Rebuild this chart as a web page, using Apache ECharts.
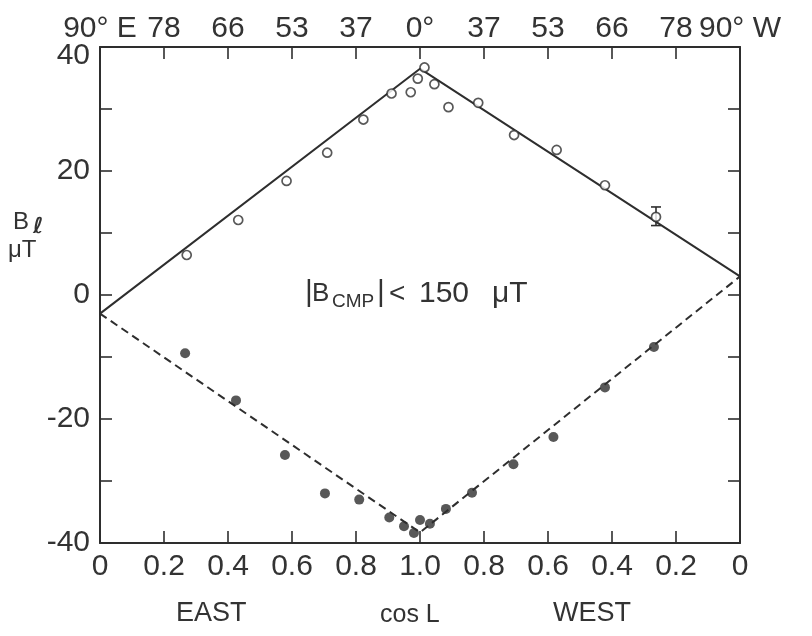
<!DOCTYPE html>
<html>
<head>
<meta charset="utf-8">
<script src="https://cdn.jsdelivr.net/npm/echarts@6/dist/echarts.min.js"></script>
<style>
html,body{margin:0;padding:0;background:#fff;}
#c{width:812px;height:636px;}
</style>
</head>
<body>
<div id="c"></div>
<script>
// ---- data (cos L on each side; positions along axis: east = cos, west = 2 - cos) ----
var bottomTickLabels = ['0','0.2','0.4','0.6','0.8','1.0','0.8','0.6','0.4','0.2','0'];
var topTickLabels = ['90° E','78','66','53','37','0°','37','53','66','78','90° W'];

var openEastCos = [0.271, 0.432, 0.583, 0.710, 0.823, 0.911, 0.971, 0.993];
var openEastB   = [6.45, 12.1, 18.4, 22.95, 28.3, 32.5, 32.7, 34.9];
var openWestCos = [0.986, 0.955, 0.911, 0.818, 0.706, 0.573, 0.422, 0.2625];
var openWestB   = [36.7, 34.0, 30.3, 31.0, 25.8, 23.4, 17.7, 12.6];

var fillEastCos = [0.266, 0.425, 0.578, 0.703, 0.810, 0.904, 0.950, 0.981, 1.0];
var fillEastB   = [-9.4, -17.0, -25.8, -32.0, -33.0, -35.9, -37.3, -38.4, -36.3];
var fillWestCos = [0.969, 0.919, 0.8375, 0.708, 0.583, 0.422, 0.269];
var fillWestB   = [-36.9, -34.5, -31.9, -27.3, -22.9, -14.9, -8.4];

var fitPos = [0, 1, 2];
var fitSolidB  = [-3, 36.5, 3];
var fitDashedB = [-3, -38.3, 3];

var errWestCos = [0.2625];
var errLow  = [11.2];
var errHigh = [14.2];

// ---- build ----
function east(c, b){ return c.map(function(v,i){ return [v, b[i]]; }); }
function west(c, b){ return c.map(function(v,i){ return [2 - v, b[i]]; }); }
var openData = east(openEastCos, openEastB).concat(west(openWestCos, openWestB));
var fillData = east(fillEastCos, fillEastB).concat(west(fillWestCos, fillWestB));
var solidData = fitPos.map(function(p,i){ return [p, fitSolidB[i]]; });
var dashedData = fitPos.map(function(p,i){ return [p, fitDashedB[i]]; });
var errData = errWestCos.map(function(c,i){ return [2 - c, errLow[i], errHigh[i]]; });

var INK = '#2e2e2e';
var TXT = '#333333';
var FONT = 'Liberation Sans';

function idx(v){ return Math.round(v / 0.2); }

var chart = echarts.init(document.getElementById('c'), null, {renderer:'canvas'});
var axisCommonX = {
  type:'value', min:0, max:2, interval:0.2,
  axisLine:{show:true, onZero:false, lineStyle:{color:INK, width:2}},
  axisTick:{show:true, inside:true, length:12, lineStyle:{color:INK, width:1.6}},
  splitLine:{show:false}
};
var axisCommonY = {
  type:'value', min:-40, max:40, interval:10,
  axisLine:{show:true, onZero:false, lineStyle:{color:INK, width:2}},
  axisTick:{show:true, inside:true, length:12, lineStyle:{color:INK, width:1.6}},
  splitLine:{show:false}
};

var option = {
  backgroundColor:'#ffffff',
  animation:false,
  grid:{left:100, right:72, top:47, bottom:93, containLabel:false},
  xAxis:[
    Object.assign({}, axisCommonX, {
      position:'bottom',
      axisLabel:{show:true, margin:9, color:TXT, fontFamily:FONT, fontSize:30,
        formatter:function(v){ return bottomTickLabels[idx(v)]; }}
    }),
    Object.assign({}, axisCommonX, {
      position:'top',
      axisLabel:{show:true, margin:3, color:TXT, fontFamily:FONT, fontSize:30,
        formatter:function(v){ return topTickLabels[idx(v)]; }}
    })
  ],
  yAxis:[
    Object.assign({}, axisCommonY, {
      position:'left',
      axisLabel:{show:true, margin:10, color:TXT, fontFamily:FONT, fontSize:30,
        formatter:function(v){
          if (v % 20 !== 0) return '';
          if (v === 40) return '{t|40}';
          return String(v);
        },
        rich:{t:{fontFamily:FONT, fontSize:30, color:TXT, padding:[18,0,0,0]}}
      }
    }),
    Object.assign({}, axisCommonY, {
      position:'right',
      axisLabel:{show:false}
    })
  ],
  series:[
    {type:'line', data:solidData, xAxisIndex:0, yAxisIndex:0, symbol:'none',
      lineStyle:{color:INK, width:2}, z:2},
    {type:'line', data:dashedData, xAxisIndex:0, yAxisIndex:0, symbol:'none',
      lineStyle:{color:INK, width:2, type:[8,5]}, z:2},
    {type:'custom', xAxisIndex:0, yAxisIndex:0, data:errData, z:3,
      renderItem:function(params, api){
        var x = api.value(0);
        var lo = api.coord([x, api.value(1)]);
        var hi = api.coord([x, api.value(2)]);
        var w = 5;
        var st = {stroke:INK, lineWidth:1.6};
        return {type:'group', children:[
          {type:'line', shape:{x1:lo[0], y1:lo[1], x2:hi[0], y2:hi[1]}, style:st},
          {type:'line', shape:{x1:hi[0]-w, y1:hi[1], x2:hi[0]+w, y2:hi[1]}, style:st},
          {type:'line', shape:{x1:lo[0]-w, y1:lo[1], x2:lo[0]+w, y2:lo[1]}, style:st}
        ]};
      }},
    {type:'scatter', data:openData, symbol:'circle', symbolSize:9,
      itemStyle:{color:'#ffffff', borderColor:INK, borderWidth:1.7}, z:4},
    {type:'scatter', data:fillData, symbol:'circle', symbolSize:10,
      itemStyle:{color:INK}, z:4}
  ],
  graphic:[
    // y-axis name
    {type:'text', left:13, top:210, style:{text:'B', font:'24px "Liberation Sans"', fill:TXT}},
    {type:'text', left:33, top:216, style:{text:'ℓ', font:'bold 22px "DejaVu Sans"', fill:TXT}},
    {type:'text', left:8, top:238, style:{text:'μT', font:'24px "Liberation Sans"', fill:TXT}},
    // annotation |B_CMP| < 150 μT
    {type:'text', left:305, top:278, style:{text:'|', font:'30px "Liberation Sans"', fill:TXT}},
    {type:'text', left:312, top:281, style:{text:'B', font:'26px "Liberation Sans"', fill:TXT}},
    {type:'text', left:332, top:292, style:{text:'CMP', font:'19px "Liberation Sans"', fill:TXT}},
    {type:'text', left:377, top:278, style:{text:'|', font:'30px "Liberation Sans"', fill:TXT}},
    {type:'text', left:389, top:280, style:{text:'<', font:'28px "Liberation Sans"', fill:TXT}},
    {type:'text', left:419, top:279, style:{text:'150', font:'30px "Liberation Sans"', fill:TXT}},
    {type:'text', left:492, top:279, style:{text:'μT', font:'30px "Liberation Sans"', fill:TXT}},
    // bottom names
    {type:'text', left:176, top:600, style:{text:'EAST', font:'27px "Liberation Sans"', fill:TXT}},
    {type:'text', left:380, top:603, style:{text:'cos L', font:'25px "Liberation Sans"', fill:TXT}},
    {type:'text', left:553, top:600, style:{text:'WEST', font:'27px "Liberation Sans"', fill:TXT}}
  ]
};
chart.setOption(option);
</script>
</body>
</html>
